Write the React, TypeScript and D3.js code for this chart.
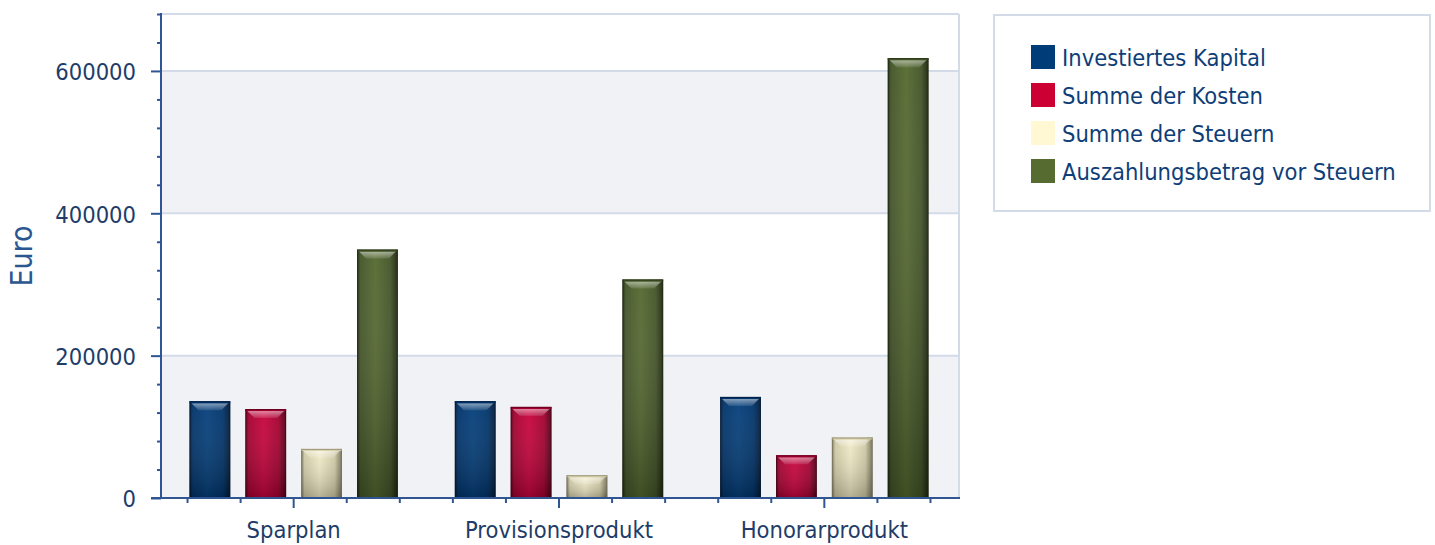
import React, { useEffect, useRef } from 'react';
import * as d3 from 'd3';

const categories = ['Sparplan', 'Provisionsprodukt', 'Honorarprodukt'];
const seriesNames = ['Investiertes Kapital', 'Summe der Kosten', 'Summe der Steuern', 'Auszahlungsbetrag vor Steuern'];
const investiert = [136000, 136000, 142000];
const kosten = [125000, 128000, 60000];
const steuern = [69000, 32000, 85000];
const auszahlung = [349000, 307000, 618000];
const yMajorTicks = [0, 200000, 400000, 600000];

// swatch, light, base, dark per series
const palette = [
  { swatch: '#003c78', light: '#043f7b', base: '#00336a', dark: '#001832' },
  { swatch: '#cc0033', light: '#c8033d', base: '#a3002f', dark: '#4a0015' },
  { swatch: '#fff8d2', light: '#f0eac6', base: '#cfc9a5', dark: '#747058' },
  { swatch: '#556b2f', light: '#556a30', base: '#435428', dark: '#1c250f' },
];

const FONT = "'DejaVu Sans Condensed', 'DejaVu Sans', sans-serif";
const W = 1435;
const H = 545;

const App: React.FC = () => {
  const svgRef = useRef<SVGSVGElement>(null);

  useEffect(() => {
    if (!svgRef.current) return;
    const svg = d3.select(svgRef.current);
    svg.selectAll('*').remove();

    const left = 161, right = 959, top = 14, bottom = 498;
    const values = [investiert, kosten, steuern, auszahlung];

    const y = d3.scaleLinear().domain([0, 680000]).range([bottom, top]);
    const x0 = d3.scaleBand<string>().domain(categories).range([left, right - 2]);
    const x1 = d3.scaleBand<string>().domain(seriesNames).range([0, x0.bandwidth()])
      .paddingInner(0.27).paddingOuter(0.51);

    const defs = svg.append('defs');
    palette.forEach((p, i) => {
      const g = defs.append('linearGradient').attr('id', `hg${i}`)
        .attr('x1', '0%').attr('x2', '100%').attr('y1', '0%').attr('y2', '0%');
      g.append('stop').attr('offset', '0%').attr('stop-color', p.dark);
      g.append('stop').attr('offset', '8%').attr('stop-color', p.base);
      g.append('stop').attr('offset', '45%').attr('stop-color', p.light);
      g.append('stop').attr('offset', '82%').attr('stop-color', p.base);
      g.append('stop').attr('offset', '100%').attr('stop-color', p.dark);
      const v = defs.append('linearGradient').attr('id', `vg${i}`)
        .attr('x1', '0%').attr('x2', '0%').attr('y1', '0%').attr('y2', '100%');
      v.append('stop').attr('offset', '0%').attr('stop-color', '#fff').attr('stop-opacity', 0.04);
      v.append('stop').attr('offset', '100%').attr('stop-color', '#000').attr('stop-opacity', 0.25);
    });
    const bev = defs.append('linearGradient').attr('id', 'bevel')
      .attr('x1', '0%').attr('x2', '0%').attr('y1', '0%').attr('y2', '100%');
    bev.append('stop').attr('offset', '0%').attr('stop-color', '#fff').attr('stop-opacity', 0.5);
    bev.append('stop').attr('offset', '100%').attr('stop-color', '#fff').attr('stop-opacity', 0.1);

    // background bands
    const bands = [[0, 200000], [400000, 600000]];
    svg.append('g').selectAll('rect').data(bands).enter().append('rect')
      .attr('x', left).attr('width', right - left)
      .attr('y', d => y(d[1])).attr('height', d => y(d[0]) - y(d[1]))
      .attr('fill', '#f0f2f6');

    // gridlines + frame
    svg.append('g').selectAll('line').data(yMajorTicks.slice(1)).enter().append('line')
      .attr('x1', left).attr('x2', right).attr('y1', d => y(d)).attr('y2', d => y(d))
      .attr('stroke', '#d3dae8').attr('stroke-width', 2);
    svg.append('line').attr('x1', left).attr('x2', right).attr('y1', top).attr('y2', top)
      .attr('stroke', '#d3dae8').attr('stroke-width', 2);
    svg.append('line').attr('x1', right).attr('x2', right).attr('y1', top).attr('y2', bottom)
      .attr('stroke', '#d3dae8').attr('stroke-width', 2);

    // bars
    const barG = svg.append('g');
    categories.forEach((c, ci) => {
      seriesNames.forEach((s, si) => {
        const v = values[si][ci];
        const bx = (x0(c) as number) + (x1(s) as number);
        const bw = x1.bandwidth();
        const by = y(v);
        const bh = y(0) - by;
        const p = palette[si];
        barG.append('rect').attr('x', bx).attr('y', by).attr('width', bw).attr('height', bh)
          .attr('fill', `url(#hg${si})`);
        barG.append('rect').attr('x', bx).attr('y', by).attr('width', bw).attr('height', bh)
          .attr('fill', `url(#vg${si})`);
        // top bevel
        const b = 2, d = Math.min(9, bh / 2);
        barG.append('polygon')
          .attr('points', [
            [bx + b, by + b], [bx + bw - b, by + b], [bx + bw - d, by + d], [bx + d, by + d],
          ].map(pt => pt.join(',')).join(' '))
          .attr('fill', 'url(#bevel)');
        barG.append('rect').attr('x', bx).attr('y', by).attr('width', bw).attr('height', 2)
          .attr('fill', si === 2 ? '#d8d2ac' : p.base);
        barG.append('rect').attr('x', bx + 0.5).attr('y', by + 0.5).attr('width', bw - 1).attr('height', bh - 1)
          .attr('fill', 'none').attr('stroke', p.dark).attr('stroke-opacity', 0.6).attr('stroke-width', 1);
      });
    });

    const axisColor = '#2f5592';
    const textColor = '#213c68';
    const fs = 23.5;

    // y axis
    const minorY = d3.range(0, 680001, 40000).filter(v => v % 200000 !== 0);
    const yMinor = svg.append('g').attr('transform', `translate(${left},0)`)
      .call(d3.axisLeft(y).tickValues(minorY).tickSize(4).tickFormat(() => ''));
    const yMajor = svg.append('g').attr('transform', `translate(${left},0)`)
      .call(d3.axisLeft(y).tickValues(yMajorTicks).tickSize(10).tickPadding(15).tickFormat(d3.format('d')));
    [yMinor, yMajor].forEach(g => {
      g.select('.domain').remove();
      g.selectAll('line').attr('stroke', axisColor).attr('stroke-width', 2);
    });
    yMajor.selectAll('text').attr('fill', textColor).attr('font-family', FONT).attr('font-size', fs)
      .attr('dy', '0.38em');
    svg.append('line').attr('x1', left).attr('x2', left).attr('y1', top - 1).attr('y2', bottom)
      .attr('stroke', axisColor).attr('stroke-width', 2);

    // x axis
    const minorX: number[] = [];
    categories.forEach(c => {
      [0.1, 0.3, 0.7, 0.9].forEach(f => minorX.push((x0(c) as number) + f * x0.bandwidth()));
    });
    svg.append('g').selectAll('line').data(minorX).enter().append('line')
      .attr('x1', d => d).attr('x2', d => d).attr('y1', bottom).attr('y2', bottom + 5)
      .attr('stroke', axisColor).attr('stroke-width', 2);
    const xAxis = svg.append('g').attr('transform', `translate(0,${bottom})`)
      .call(d3.axisBottom(x0).tickSize(10).tickPadding(13));
    xAxis.select('.domain').remove();
    xAxis.selectAll('line').attr('stroke', axisColor).attr('stroke-width', 2);
    xAxis.selectAll('text').attr('fill', textColor).attr('font-family', FONT).attr('font-size', fs);
    svg.append('line').attr('x1', 151).attr('x2', right + 1).attr('y1', bottom).attr('y2', bottom)
      .attr('stroke', axisColor).attr('stroke-width', 2);

    // y title
    svg.append('text').attr('transform', `translate(32,256) rotate(-90)`)
      .attr('text-anchor', 'middle').attr('fill', '#2a5790')
      .attr('font-family', FONT).attr('font-size', 30).text('Euro');

    // legend
    const lg = svg.append('g');
    lg.append('rect').attr('x', 994).attr('y', 15).attr('width', 436).attr('height', 196)
      .attr('fill', '#fff').attr('stroke', '#d3dae8').attr('stroke-width', 2);
    seriesNames.forEach((s, i) => {
      const yy = 45 + i * 38;
      lg.append('rect').attr('x', 1031).attr('y', yy).attr('width', 24).attr('height', 24)
        .attr('fill', palette[i].swatch);
      lg.append('text').attr('x', 1062).attr('y', yy + 21).attr('fill', '#0e3e78')
        .attr('font-family', FONT).attr('font-size', fs).text(s);
    });
  }, []);

  return (
    <svg ref={svgRef} width={W} height={H}
      style={{ position: 'absolute', left: 0, top: 0, display: 'block', background: '#fff' }} />
  );
};

export default App;
